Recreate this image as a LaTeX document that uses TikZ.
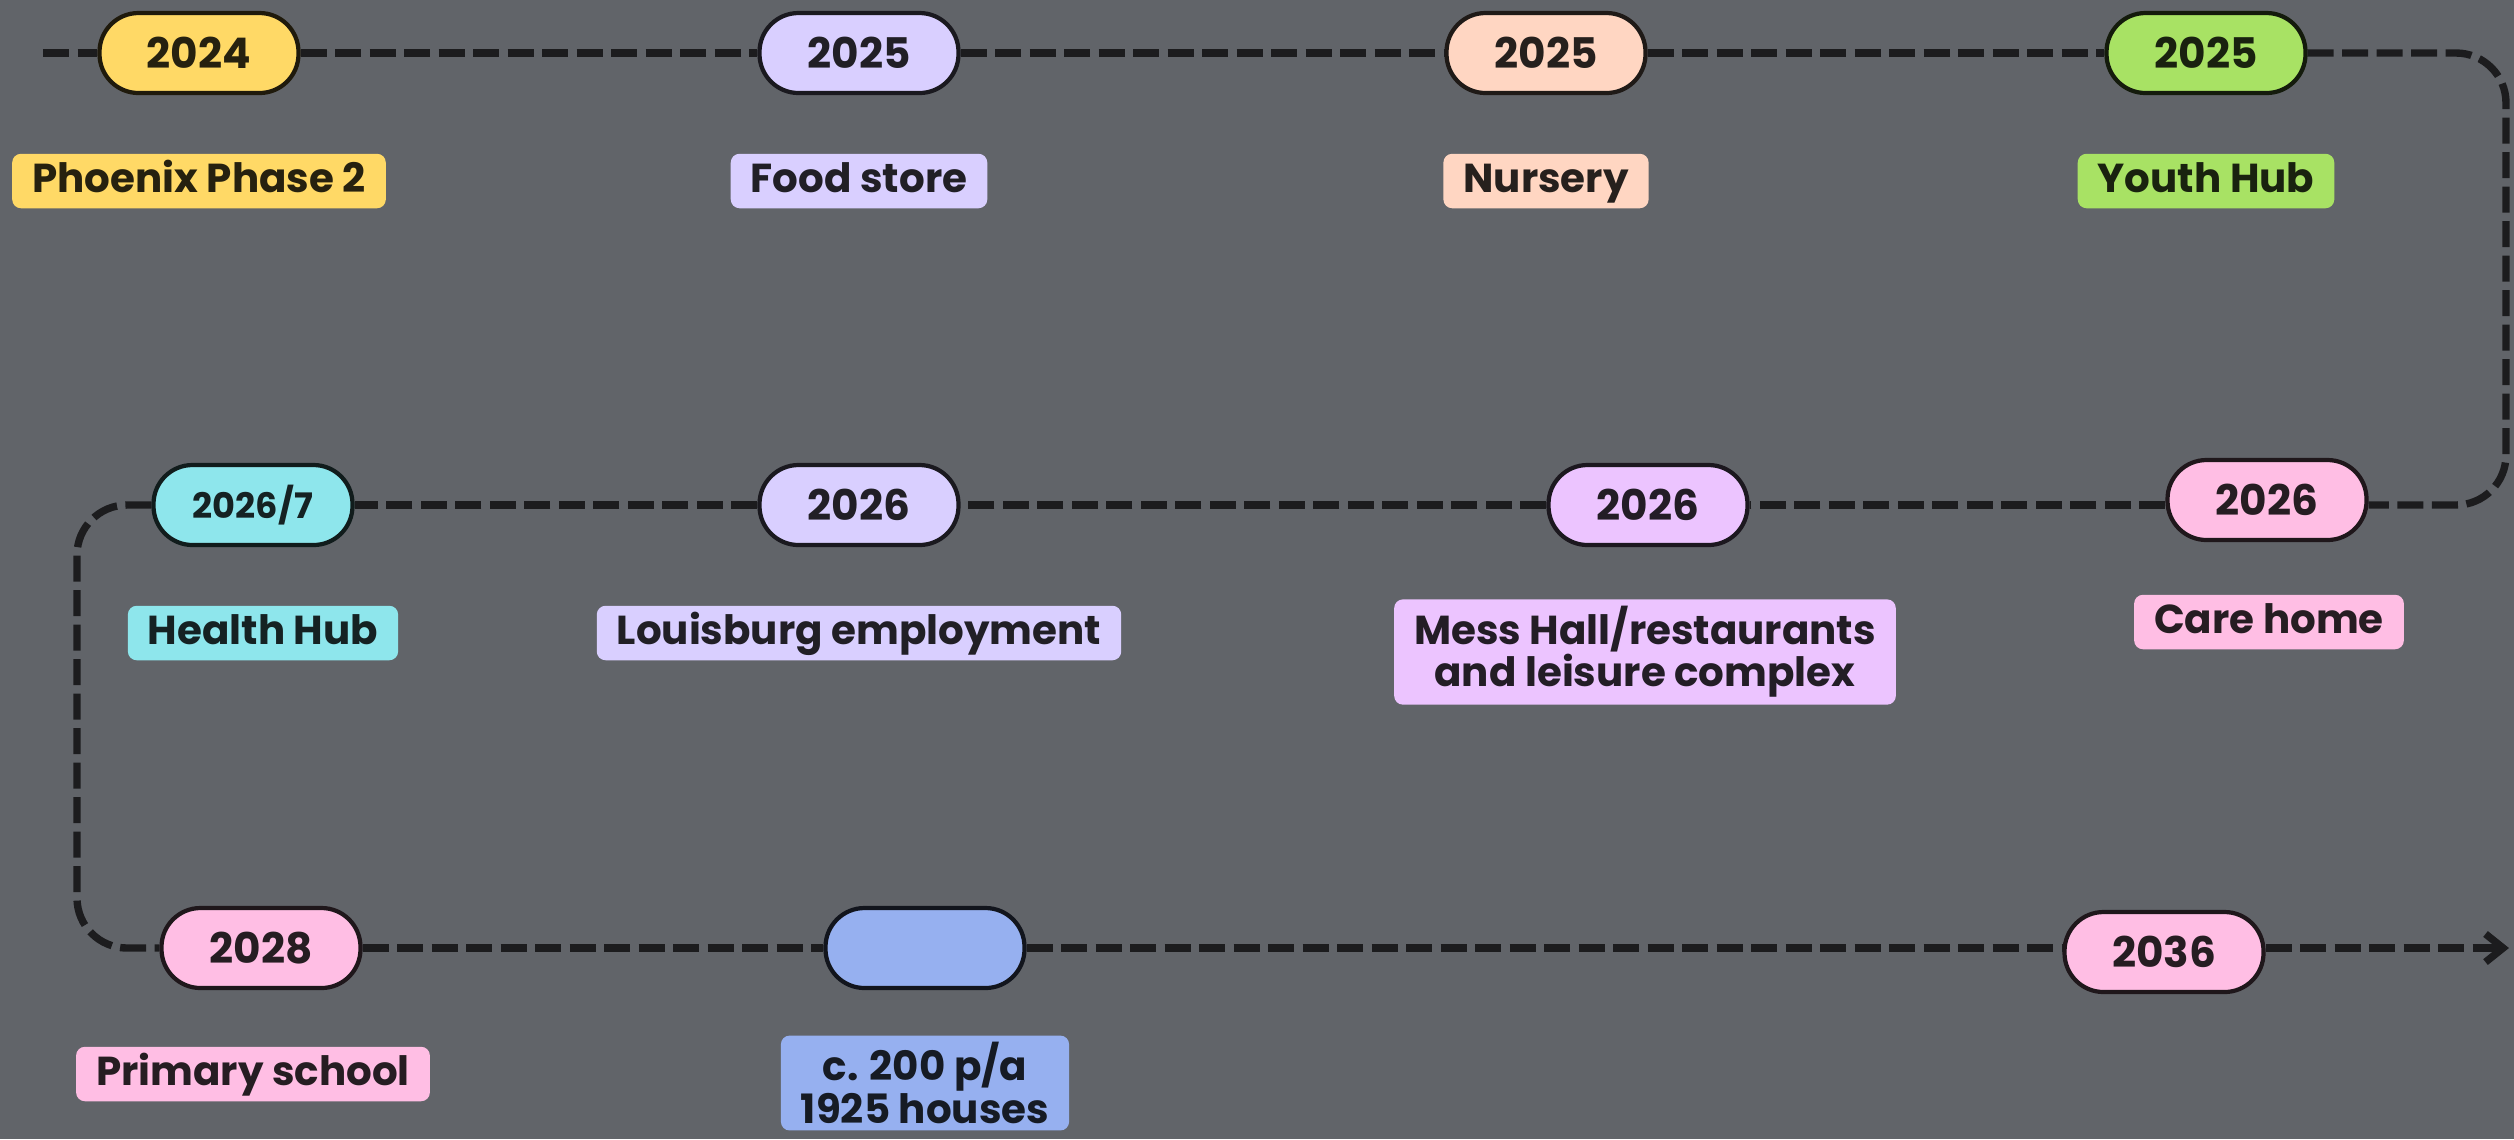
\documentclass[tikz,border=0pt]{standalone}
\usepackage{fontspec}
\setmainfont{Poppins}
\usetikzlibrary{arrows.meta}
\definecolor{bggrey}{RGB}{97,100,105}
\definecolor{ink}{RGB}{28,28,30}
\definecolor{yel}{RGB}{255,217,102}
\definecolor{lav}{RGB}{217,207,255}
\definecolor{peach}{RGB}{255,214,194}
\definecolor{lime}{RGB}{168,226,100}
\definecolor{rose}{RGB}{255,190,228}
\definecolor{lilac}{RGB}{236,196,255}
\definecolor{aqua}{RGB}{142,230,236}
\definecolor{cornflower}{RGB}{150,176,240}

\begin{document}
\begin{tikzpicture}[
    pill/.style={draw=#1!12!black, line width=1.2pt, fill=#1, text=#1!15!black,
      rounded corners=0.39cm, minimum width=1.99cm, minimum height=0.8cm,
      font=\fontsize{12}{14}\selectfont\bfseries},
    lbl/.style={fill=#1, text=#1!15!black, rounded corners=2.5pt, inner xsep=0.2cm,
      inner ysep=0.075cm, align=center, text height=1.6ex, text depth=0.45ex,
      font=\fontsize{11.5}{12}\selectfont\bfseries},
    twoline/.style={text height={}, text depth={}, inner ysep=0.07cm},
    track/.style={draw=ink, line width=2.1pt, dash pattern=on 0.26cm off 0.085cm}
  ]
    \fill[bggrey] (0,0) rectangle (25.14,-11.39);
    \useasboundingbox (0,0) rectangle (25.14,-11.39);

    \node[pill=yel] (y2024) at (1.99,-0.53) {2024};
    \node[pill=lav] (f2025) at (8.59,-0.53) {2025};
    \node[pill=peach] (n2025) at (15.46,-0.53) {2025};
    \node[pill=lime] (g2025) at (22.06,-0.53) {2025};
    \node[lbl=yel] (phoenix) at (1.99,-1.81) {Phoenix Phase 2};
    \node[lbl=lav] (food) at (8.59,-1.81) {Food store};
    \node[lbl=peach] (nursery) at (15.46,-1.81) {Nursery};
    \node[lbl=lime] (youth) at (22.06,-1.81) {Youth Hub};

    \node[pill=rose] (c2026) at (22.67,-5.0) {2026};
    \node[pill=lilac] (m2026) at (16.48,-5.05) {2026};
    \node[pill=lav] (l2026) at (8.59,-5.05) {2026};
    \node[pill=aqua, font=\fontsize{10}{12}\selectfont\bfseries] (h2026) at (2.53,-5.05) {2026/7};
    \node[lbl=rose] (care) at (22.69,-6.22) {Care home};
    \node[lbl=lilac, twoline] (mess) at (16.45,-6.52) {Mess Hall/restaurants\\and leisure complex};
    \node[lbl=lav] (louis) at (8.59,-6.33) {Louisburg employment};
    \node[lbl=aqua] (health) at (2.63,-6.33) {Health Hub};

    \node[pill=rose] (p2028) at (2.61,-9.48) {2028};
    \node[pill=cornflower] (houses) at (9.25,-9.48) {};
    \node[pill=rose] (p2036) at (21.64,-9.52) {2036};
    \node[lbl=rose] (school) at (2.53,-10.74) {Primary school};
    \node[lbl=cornflower, twoline] (rate) at (9.25,-10.83) {c. 200 p/a\\1925 houses};

    \coordinate (start) at (0.43,-0.53);
    \coordinate (rtop) at (25.06,-0.53);
    \coordinate (rbot) at (25.06,-5.05);
    \coordinate (ltop) at (0.77,-5.05);
    \coordinate (lbot) at (0.77,-9.48);
    \coordinate (finish) at (25.09,-9.48);

    \draw[track] (start) -- (y2024) -- (f2025) -- (n2025) -- (g2025);
    \draw[track, rounded corners=0.5cm] (g2025) -- (rtop) -- (rbot) -- (c2026.east |- rbot);
    \draw[track] (c2026.west |- ltop) -- (m2026) -- (l2026) -- (h2026);
    \draw[track, rounded corners=0.5cm] (h2026) -- (ltop) -- (lbot) -- (p2028);
    \draw[track] (p2028) -- (houses) -- (p2036.west |- lbot);
    \draw[track, -{Straight Barb[length=5pt, width=8pt]}] (p2036.east |- lbot) -- (finish);
\end{tikzpicture}
\end{document}
